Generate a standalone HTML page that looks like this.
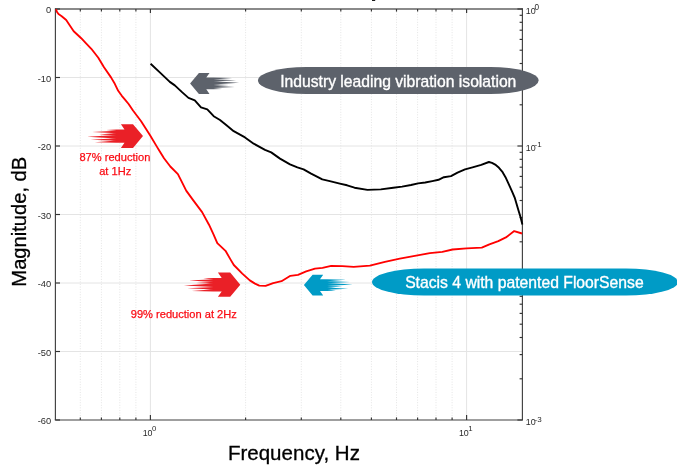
<!DOCTYPE html>
<html lang="en"><head><meta charset="utf-8"><title>Vibration isolation chart</title>
<style>html,body{margin:0;padding:0;background:#fff;overflow:hidden}svg{display:block;will-change:transform}</style>
</head><body>
<svg width="677" height="473" viewBox="0 0 677 473">
<rect width="677" height="473" fill="#fff"/>
<rect x="372" y="0" width="3.2" height="0.9" fill="#000"/>
<g stroke="#e4e4e4" stroke-width="1"><line x1="55.4" x2="522.4" y1="77.5" y2="77.5"/><line x1="55.4" x2="522.4" y1="146.0" y2="146.0"/><line x1="55.4" x2="522.4" y1="214.5" y2="214.5"/><line x1="55.4" x2="522.4" y1="283.0" y2="283.0"/><line x1="55.4" x2="522.4" y1="351.5" y2="351.5"/><line x1="150.4" x2="150.4" y1="9.0" y2="420.0"/><line x1="466.6" x2="466.6" y1="9.0" y2="420.0"/></g>
<g stroke="#e4e4e4" stroke-width="1" stroke-dasharray="1 1.57"><line x1="80.3" x2="80.3" y1="9.0" y2="420.0"/><line x1="101.4" x2="101.4" y1="9.0" y2="420.0"/><line x1="119.8" x2="119.8" y1="9.0" y2="420.0"/><line x1="135.9" x2="135.9" y1="9.0" y2="420.0"/><line x1="245.6" x2="245.6" y1="9.0" y2="420.0"/><line x1="301.3" x2="301.3" y1="9.0" y2="420.0"/><line x1="340.8" x2="340.8" y1="9.0" y2="420.0"/><line x1="371.4" x2="371.4" y1="9.0" y2="420.0"/><line x1="396.5" x2="396.5" y1="9.0" y2="420.0"/><line x1="417.6" x2="417.6" y1="9.0" y2="420.0"/><line x1="436.0" x2="436.0" y1="9.0" y2="420.0"/><line x1="452.1" x2="452.1" y1="9.0" y2="420.0"/></g>
<line x1="55.4" x2="522.4" y1="9.0" y2="9.0" stroke="#8a8a8a" stroke-width="1.8"/>
<line x1="54.8" x2="523.0" y1="420.0" y2="420.0" stroke="#404040" stroke-width="1.15"/>
<line x1="55.4" x2="55.4" y1="8.2" y2="420.0" stroke="#404040" stroke-width="1.15"/>
<line x1="522.4" x2="522.4" y1="8.2" y2="420.0" stroke="#404040" stroke-width="1.15"/>
<g stroke="#333" stroke-width="1.15"><line x1="55.4" x2="60.0" y1="9.0" y2="9.0"/><line x1="55.4" x2="60.0" y1="77.5" y2="77.5"/><line x1="55.4" x2="60.0" y1="146.0" y2="146.0"/><line x1="55.4" x2="60.0" y1="214.5" y2="214.5"/><line x1="55.4" x2="60.0" y1="283.0" y2="283.0"/><line x1="55.4" x2="60.0" y1="351.5" y2="351.5"/><line x1="55.4" x2="60.0" y1="420.0" y2="420.0"/><line x1="150.4" x2="150.4" y1="420.0" y2="415.0"/><line x1="150.4" x2="150.4" y1="9.0" y2="13.0"/><line x1="466.6" x2="466.6" y1="420.0" y2="415.0"/><line x1="466.6" x2="466.6" y1="9.0" y2="13.0"/><line x1="80.3" x2="80.3" y1="420.0" y2="417.4"/><line x1="80.3" x2="80.3" y1="9.0" y2="11.6"/><line x1="101.4" x2="101.4" y1="420.0" y2="417.4"/><line x1="101.4" x2="101.4" y1="9.0" y2="11.6"/><line x1="119.8" x2="119.8" y1="420.0" y2="417.4"/><line x1="119.8" x2="119.8" y1="9.0" y2="11.6"/><line x1="135.9" x2="135.9" y1="420.0" y2="417.4"/><line x1="135.9" x2="135.9" y1="9.0" y2="11.6"/><line x1="245.6" x2="245.6" y1="420.0" y2="417.4"/><line x1="245.6" x2="245.6" y1="9.0" y2="11.6"/><line x1="301.3" x2="301.3" y1="420.0" y2="417.4"/><line x1="301.3" x2="301.3" y1="9.0" y2="11.6"/><line x1="340.8" x2="340.8" y1="420.0" y2="417.4"/><line x1="340.8" x2="340.8" y1="9.0" y2="11.6"/><line x1="371.4" x2="371.4" y1="420.0" y2="417.4"/><line x1="371.4" x2="371.4" y1="9.0" y2="11.6"/><line x1="396.5" x2="396.5" y1="420.0" y2="417.4"/><line x1="396.5" x2="396.5" y1="9.0" y2="11.6"/><line x1="417.6" x2="417.6" y1="420.0" y2="417.4"/><line x1="417.6" x2="417.6" y1="9.0" y2="11.6"/><line x1="436.0" x2="436.0" y1="420.0" y2="417.4"/><line x1="436.0" x2="436.0" y1="9.0" y2="11.6"/><line x1="452.1" x2="452.1" y1="420.0" y2="417.4"/><line x1="452.1" x2="452.1" y1="9.0" y2="11.6"/><line x1="522.4" x2="517.4" y1="9.0" y2="9.0"/><line x1="522.4" x2="519.6" y1="104.8" y2="104.8"/><line x1="522.4" x2="519.6" y1="80.6" y2="80.6"/><line x1="522.4" x2="519.6" y1="63.5" y2="63.5"/><line x1="522.4" x2="519.6" y1="50.2" y2="50.2"/><line x1="522.4" x2="519.6" y1="39.4" y2="39.4"/><line x1="522.4" x2="519.6" y1="30.2" y2="30.2"/><line x1="522.4" x2="519.6" y1="22.3" y2="22.3"/><line x1="522.4" x2="519.6" y1="15.3" y2="15.3"/><line x1="522.4" x2="517.4" y1="146.0" y2="146.0"/><line x1="522.4" x2="519.6" y1="241.8" y2="241.8"/><line x1="522.4" x2="519.6" y1="217.6" y2="217.6"/><line x1="522.4" x2="519.6" y1="200.5" y2="200.5"/><line x1="522.4" x2="519.6" y1="187.2" y2="187.2"/><line x1="522.4" x2="519.6" y1="176.4" y2="176.4"/><line x1="522.4" x2="519.6" y1="167.2" y2="167.2"/><line x1="522.4" x2="519.6" y1="159.3" y2="159.3"/><line x1="522.4" x2="519.6" y1="152.3" y2="152.3"/><line x1="522.4" x2="517.4" y1="283.0" y2="283.0"/><line x1="522.4" x2="519.6" y1="378.8" y2="378.8"/><line x1="522.4" x2="519.6" y1="354.6" y2="354.6"/><line x1="522.4" x2="519.6" y1="337.5" y2="337.5"/><line x1="522.4" x2="519.6" y1="324.2" y2="324.2"/><line x1="522.4" x2="519.6" y1="313.4" y2="313.4"/><line x1="522.4" x2="519.6" y1="304.2" y2="304.2"/><line x1="522.4" x2="519.6" y1="296.3" y2="296.3"/><line x1="522.4" x2="519.6" y1="289.3" y2="289.3"/><line x1="522.4" x2="517.4" y1="420.0" y2="420.0"/></g>
<g font-family="'Liberation Sans',Arial,sans-serif" font-size="9.3" fill="#2a2a2a"><text x="51.2" y="13.2" text-anchor="end">0</text><text x="51.2" y="81.7" text-anchor="end">-10</text><text x="51.2" y="150.2" text-anchor="end">-20</text><text x="51.2" y="218.7" text-anchor="end">-30</text><text x="51.2" y="287.2" text-anchor="end">-40</text><text x="51.2" y="355.7" text-anchor="end">-50</text><text x="51.2" y="424.2" text-anchor="end">-60</text><text x="142.7" y="435.9"><tspan font-size="8.9">10</tspan><tspan dy="-4.7" dx="-0.6" font-size="7.8">0</tspan></text><text x="458.9" y="435.9"><tspan font-size="8.9">10</tspan><tspan dy="-4.7" dx="-0.6" font-size="7.8">1</tspan></text><text x="525.8" y="14.0"><tspan font-size="8.9">10</tspan><tspan dy="-4.3" dx="-1.2" font-size="8.2">0</tspan></text><text x="525.8" y="151.0"><tspan font-size="8.9">10</tspan><tspan dy="-3.6" dx="-1.1" font-size="8.0">-1</tspan></text><text x="525.8" y="425.0"><tspan font-size="8.9">10</tspan><tspan dy="-3.1" dx="-1.1" font-size="8.0">-3</tspan></text></g>
<polyline fill="none" stroke="#000" stroke-width="1.9" stroke-linejoin="round" stroke-linecap="butt" points="150.6,63.7 159.8,72.4 169.8,81.9 174.8,85.4 182.3,92.4 188.5,97.9 194.8,100.4 201.0,107.3 207.3,109.3 213.7,116.2 220.0,120.0 226.2,125.0 233.7,131.2 245.0,137.4 253.7,143.7 265.0,149.9 271.2,152.4 280.0,158.6 290.0,164.4 297.4,167.4 303.6,169.4 311.1,173.6 322.3,179.4 329.8,181.1 339.8,183.6 347.1,185.3 354.5,187.7 367.5,189.9 380.8,189.4 393.3,187.8 402.1,186.6 411.0,185.0 418.1,183.4 425.2,182.5 432.3,181.1 438.5,179.8 443.9,177.2 451.0,176.1 457.5,172.6 465.0,169.4 472.5,167.4 481.2,164.9 488.9,162.0 492.0,162.9 495.2,164.6 499.0,167.8 502.2,171.6 505.5,177.2 508.5,183.6 512.0,191.3 514.9,198.2 518.2,209.6 520.5,217.0 522.4,224.4"/>
<polyline fill="none" stroke="#ff0000" stroke-width="1.85" stroke-linejoin="round" stroke-linecap="butt" points="56.0,9.3 57.0,12.0 58.5,14.0 61.7,16.2 66.2,20.0 69.5,25.0 73.7,31.2 81.2,38.2 85.6,42.8 91.3,48.8 98.3,57.8 104.0,67.3 111.0,77.4 114.8,83.8 118.2,90.8 121.8,95.8 125.0,99.6 128.6,104.0 133.0,110.5 141.1,121.2 149.9,135.0 157.3,147.4 158.9,150.0 164.0,158.2 170.3,166.5 177.9,174.1 181.7,181.7 186.2,190.6 193.1,200.1 202.1,212.1 209.0,224.7 213.5,234.3 217.3,243.1 225.5,250.8 230.6,259.6 233.8,265.0 242.3,273.6 249.8,280.4 255.0,283.6 259.3,285.6 265.6,285.9 273.2,283.1 281.5,281.2 290.4,275.8 298.0,274.8 306.2,271.4 315.0,268.6 322.5,267.9 331.2,265.9 342.4,266.2 353.7,266.9 369.9,265.7 384.9,261.9 399.8,258.7 414.8,255.9 429.8,253.2 442.3,251.9 452.6,249.5 466.6,248.3 481.8,247.6 489.4,244.4 498.3,241.2 505.9,237.4 514.2,231.1 522.0,233.5"/>
<polygon fill="#ea2027" points="143.0,136.1 133.0,124.2 120.9,124.2 124.5,129.4 116.5,129.4 116.5,129.4 106.3,129.9 116.5,130.9 116.5,130.7 92.2,131.9 116.5,133.3 116.5,133.1 99.1,134.4 116.5,135.2 116.5,135.0 87.1,136.8 116.5,138.4 116.5,138.2 90.6,139.7 116.5,140.8 116.5,140.6 94.9,142.2 116.5,142.8 116.5,142.8 124.5,142.8 120.9,148.0 133.0,148.0"/>
<polygon fill="#ea2027" points="240.3,284.7 230.2,272.6 217.9,272.6 221.7,277.9 213.5,277.9 213.5,277.9 203.2,278.4 213.5,279.4 213.5,279.2 189.0,280.5 213.5,281.9 213.5,281.7 196.0,282.9 213.5,283.8 213.5,283.6 183.9,285.4 213.5,287.1 213.5,286.9 187.4,288.3 213.5,289.4 213.5,289.2 191.7,290.9 213.5,291.5 213.5,291.5 221.7,291.5 217.9,296.8 230.2,296.8"/>
<polygon fill="#5d626b" points="190.1,83.4 198.9,93.9 209.5,93.9 206.3,89.3 213.4,89.3 213.4,89.3 222.3,88.9 213.4,88.0 213.4,88.1 234.7,87.1 213.4,85.8 213.4,86.0 228.6,84.9 213.4,84.2 213.4,84.4 239.1,82.8 213.4,81.3 213.4,81.5 236.1,80.3 213.4,79.3 213.4,79.5 232.3,78.0 213.4,77.5 213.4,77.5 206.3,77.5 209.5,72.9 198.9,72.9"/>
<polygon fill="#009bc6" points="303.9,285.1 312.6,295.5 323.2,295.5 320.0,291.0 327.0,291.0 327.0,291.0 335.9,290.5 327.0,289.6 327.0,289.8 348.2,288.7 327.0,287.5 327.0,287.7 342.2,286.6 327.0,285.9 327.0,286.1 352.7,284.5 327.0,283.1 327.0,283.2 349.6,282.0 327.0,281.0 327.0,281.2 345.9,279.8 327.0,279.2 327.0,279.2 320.0,279.2 323.2,274.7 312.6,274.7"/>
<rect x="258" y="67" width="280.6" height="27" rx="48" ry="13.5" fill="#5d626b"/>
<rect x="372" y="268.6" width="306" height="26.9" rx="52" ry="13.45" fill="#009bc6"/>
<g font-family="'Liberation Sans',Arial,sans-serif" fill="#fff" stroke="#fff" stroke-width="0.35" text-anchor="middle"><text x="398.3" y="86.5" font-size="15.68">Industry leading vibration isolation</text><text x="524.4" y="288.4" font-size="15.72">Stacis 4 with patented FloorSense</text></g>
<g font-family="'Liberation Sans',Arial,sans-serif" font-size="11.1" fill="#fa0c14" stroke="#fa0c14" stroke-width="0.25" text-anchor="middle"><text x="114.9" y="161.3">87% reduction</text><text x="115.2" y="174.6">at 1Hz</text><text x="183.8" y="317.6">99% reduction at 2Hz</text></g>
<g font-family="'Liberation Sans',Arial,sans-serif" fill="#000" stroke="#000" stroke-width="0.3" text-anchor="middle"><text transform="translate(293.9,460.3) scale(1,1.02)" font-size="20.55">Frequency, Hz</text><text transform="translate(25.6,221.7) rotate(-90) scale(1,1.02)" font-size="20.15">Magnitude, dB</text></g>
</svg>
</body></html>
